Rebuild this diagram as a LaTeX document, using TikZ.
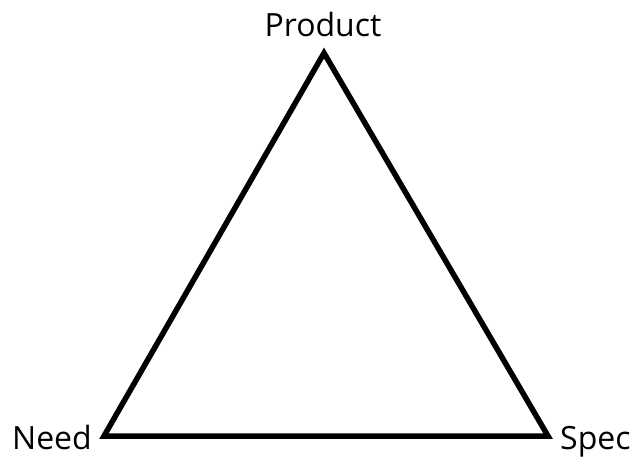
\documentclass[tikz,border=0pt]{standalone}
\usepackage{fontspec}
\setmainfont{Open Sans}
\begin{document}
\begin{tikzpicture}[x=1pt,y=-1pt,
  vertex/.style={inner sep=0pt,outer sep=0pt},
  lbl/.style={font=\fontsize{32}{38}\selectfont,inner sep=0pt},
  edge/.style={line width=5.5pt,line join=miter}]
\useasboundingbox (0,0) rectangle (637,457);
\coordinate (P) at (324,53);
\coordinate (N) at (104,436);
\coordinate (S) at (548,436);
\draw[edge] (P) -- (N) -- (S) -- cycle;
\node[lbl,anchor=base] (lp) at (323,37) {Product};
\node[lbl,anchor=base east] (ln) at (92,449) {Need};
\node[lbl,anchor=base west] (ls) at (560,449) {Spec};
\end{tikzpicture}
\end{document}
